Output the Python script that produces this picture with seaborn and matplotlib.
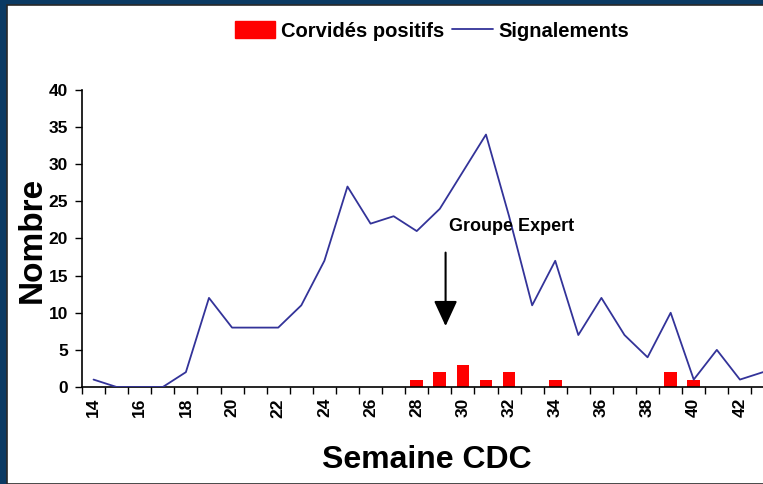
import matplotlib
matplotlib.use("Agg")
import matplotlib.pyplot as plt
import matplotlib.patches as mpatches
from matplotlib.lines import Line2D
import seaborn as sns
import pandas as pd
import numpy as np

# Data
weeks = list(range(14, 44))
signalements = [1, 0, 0, 0, 2, 12, 8, 8, 8, 11, 17, 27, 22, 23, 21, 24, 29, 34,
                23, 11, 17, 7, 12, 7, 4, 10, 1, 5, 1, 2]
pos_weeks = [28, 29, 30, 31, 32, 34, 39, 40]
pos_values = [1, 2, 3, 1, 2, 1, 2, 1]
tick_weeks = list(range(14, 43, 2))

sns.set_theme(style="white")
plt.rcParams['font.family'] = ['Liberation Sans', 'DejaVu Sans']
plt.rcParams['font.weight'] = 'bold'
plt.rcParams['text.color'] = 'black'
plt.rcParams['axes.labelcolor'] = 'black'
plt.rcParams['xtick.color'] = 'black'
plt.rcParams['ytick.color'] = 'black'

W, H = 763, 484
fig = plt.figure(figsize=(W / 100, H / 100), dpi=100)
fig.patch.set_facecolor("#0b3a63")
# white panel
fig.add_artist(mpatches.Rectangle((6.5 / W, 0), 1, (H - 5) / H, transform=fig.transFigure,
                                  facecolor="white", edgecolor="#2a2a2a", linewidth=1.2, zorder=0))

ax = fig.add_axes([82 / W, (H - 387) / H, (W - 82) / W, (387 - 90) / H])
ax.set_facecolor("none")

df_line = pd.DataFrame({"Semaine": weeks, "Signalements": signalements})
df_bar = pd.DataFrame({"Semaine": pos_weeks, "Corvidés positifs": pos_values})

sns.barplot(data=df_bar, x="Semaine", y="Corvidés positifs", native_scale=True,
            color="#ff0000", saturation=1, width=0.55, linewidth=0, ax=ax, zorder=2)
sns.lineplot(data=df_line, x="Semaine", y="Signalements", color="#333399",
             linewidth=1.3, ax=ax, zorder=3)

ax.set_xlim(13.5, 43.0)
ax.set_ylim(0, 40)

# ticks
ax.set_yticks(range(0, 41, 5))
ax.tick_params(axis="y", which="major", direction="out", length=5, width=1, color="black",
               pad=5, labelsize=12.5, left=True)
ax.set_xticks(tick_weeks)
ax.set_xticklabels([str(w) for w in tick_weeks], rotation=90, fontsize=12.5, fontweight="bold")
ax.set_xticks(np.arange(13.5, 43.0, 1.0), minor=True)
ax.tick_params(axis="x", which="major", length=0, pad=8)
ax.tick_params(axis="x", which="minor", direction="out", length=5, width=1, color="black",
               bottom=True)
for lab in ax.get_yticklabels():
    lab.set_fontweight("bold")

for s in ["top", "right"]:
    ax.spines[s].set_visible(False)
for s in ["left", "bottom"]:
    ax.spines[s].set_color("black")
    ax.spines[s].set_linewidth(1.2)

ax.set_xlabel("")
ax.set_ylabel("")
fig.text(427 / W, 1 - 460 / H, "Semaine CDC", ha="center", va="center",
         fontsize=23, fontweight="bold")
fig.text(32 / W, 1 - 240 / H, "Nombre", ha="center", va="center", rotation=90,
         fontsize=24, fontweight="bold")

# annotation
ax.annotate("", xy=(29.25, 8.2), xytext=(29.25, 18.1),
            arrowprops=dict(arrowstyle="-|>,head_length=1.3,head_width=0.6",
                            color="black", lw=1.5, shrinkA=0, shrinkB=0))
ax.text(29.4, 21.6, "Groupe Expert", ha="left", va="center", fontsize=13,
        fontweight="bold")

# legend
handles = [mpatches.Patch(color="#ff0000", label="Corvidés positifs"),
           Line2D([0], [0], color="#333399", lw=1.3, label="Signalements")]
fig.legend(handles=handles, loc="center", bbox_to_anchor=(432 / W, 1 - 31 / H), ncol=2,
           frameon=False, handlelength=2.0, handleheight=0.9,
           handletextpad=0.3, columnspacing=0.4, prop={"weight": "bold", "size": 14.5})

fig.savefig("out.png", dpi=100, facecolor=fig.get_facecolor())
